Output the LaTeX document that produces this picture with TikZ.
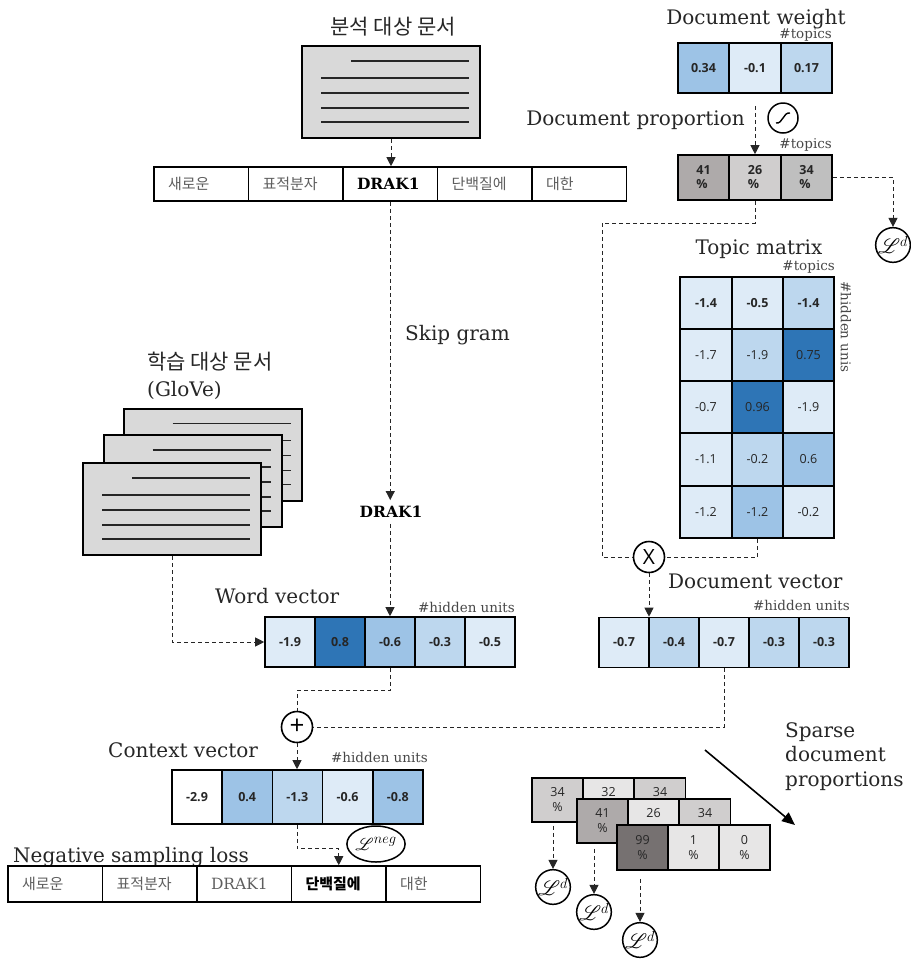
\documentclass[tikz,border=0pt]{standalone}
\usepackage{fontspec}
\usepackage{mathrsfs}
\setmainfont{DejaVu Serif}
\newfontfamily\krfont{Noto Sans CJK KR}
\newfontfamily\numfont{Open Sans}
\usetikzlibrary{arrows.meta,calc,shapes.geometric}

\definecolor{bA}{HTML}{DEEBF7}
\definecolor{bB}{HTML}{BDD7EE}
\definecolor{bC}{HTML}{9DC3E6}
\definecolor{bD}{HTML}{2E75B6}
\definecolor{gA}{HTML}{E7E6E6}
\definecolor{gB}{HTML}{D0CECE}
\definecolor{gC}{HTML}{BFBFBF}
\definecolor{gD}{HTML}{AEAAAA}
\definecolor{gE}{HTML}{767171}
\definecolor{paper}{HTML}{D9D9D9}
\definecolor{ink}{HTML}{262626}
\definecolor{tokgray}{HTML}{5E5E5E}

\tikzset{
  lbl/.style={font=\fontsize{20}{24.5}\selectfont, text=ink, inner sep=0pt},
  tinylbl/.style={font=\fontsize{13.5}{15}\selectfont, text=ink!85, inner sep=0pt},
  krtitle/.style={font=\krfont\fontsize{21}{25}\selectfont, text=ink, inner sep=0pt},
  sheet/.style={draw=black, fill=paper, line width=2pt, minimum width=178pt, minimum height=92pt, inner sep=0pt},
  sheetline/.style={draw=ink, line width=1.2pt},
  cell/.style={draw=black, line width=1.6pt, inner sep=0pt, text=ink, align=center,
    font=\numfont\bfseries\fontsize{12.5}{14}\selectfont},
  lightnum/.style={font=\numfont\fontsize{12.5}{14}\selectfont},
  vec/.style={cell, minimum width=50pt, minimum height=50pt},
  cvec/.style={cell, minimum width=50.2pt, minimum height=54pt},
  wcell/.style={cell, minimum width=51.3pt, minimum height=50pt},
  pcell/.style={cell, minimum width=51.3pt, minimum height=45pt, align=left},
  tcell/.style={cell, minimum width=51.5pt, minimum height=52.2pt},
  scell/.style={cell, minimum width=51pt, minimum height=44pt, font=\numfont\fontsize{12.5}{15}\selectfont},
  tok/.style={draw=black, line width=1.6pt, text width=66.5pt, inner xsep=14pt, inner ysep=0pt,
    minimum height=34pt, align=left, font=\krfont\fontsize{15}{17}\selectfont, text=tokgray},
  dlink/.style={draw=ink, line width=1pt, dash pattern=on 4pt off 3pt},
  arr/.style={-{Triangle[length=9pt,width=9pt]}},
  lcirc/.style={circle, draw=black, line width=1.5pt, minimum size=31pt, inner sep=0pt,
    font=\fontsize{20}{20}\selectfont},
  opcirc/.style={circle, draw=black, line width=1.6pt, minimum size=31pt, inner sep=0pt,
    font=\numfont\fontsize{21}{21}\selectfont},
}

% a grey page with five text lines
\newcommand{\docsheet}[3]{%
  \node[sheet] (#1) at (#2,#3) {};
  \draw[sheetline] ($(#1.north west)+(50,16)$) -- ($(#1.north east)+(-12,16)$);
  \foreach \dy in {33,48,63,77}
    \draw[sheetline] ($(#1.north west)+(20,\dy)$) -- ($(#1.north east)+(-12,\dy)$);
}
\newcommand{\lossd}{$\mathscr{L}^{d}$}

\begin{document}
\begin{tikzpicture}[x=1pt,y=-1pt]
\useasboundingbox (0,0) rectangle (911,962);

% ---------- analysed document and its tokens ----------
\node[krtitle] (toptitle) at (393,27) {분석 대상 문서};
\docsheet{topdoc}{391}{92}

\node[tok] (tk1) at (201.25,184) {새로운};
\node[tok] (tk2) at (295.75,184) {표적분자};
\node[tok, font=\rmfamily\bfseries\fontsize{15.5}{17}\selectfont, text=black] (tk3) at (390.25,184) {DRAK1};
\node[tok] (tk4) at (484.75,184) {단백질에};
\node[tok] (tk5) at (579.25,184) {대한};
\draw[dlink, arr] (topdoc.south) -- (topdoc.south |- tk3.north);

\node[font=\rmfamily\bfseries\fontsize{15.5}{17}\selectfont, text=black, inner sep=6pt] (drak) at (391,512) {DRAK1};
\draw[dlink, arr] (tk3.south) -- (tk3.south |- drak.north);
\node[lbl, anchor=base west] (skip) at (405,340) {Skip gram};

% ---------- training documents ----------
\node[krtitle, anchor=west] (glovetitle) at (147,362) {학습 대상 문서};
\node[lbl, anchor=base west] (glovename) at (147,396) {(GloVe)};
\docsheet{back}{212.5}{454.5}
\docsheet{mid}{192.5}{481}
\docsheet{front}{172}{509}

% ---------- word vector ----------
\node[lbl, anchor=base west] (wvl) at (215,603) {Word vector};
\node[tinylbl, anchor=base east] (wvu) at (515,612) {\#hidden units};
\node[vec, fill=bA] (wv1) at (290,642) {-1.9};
\node[vec, fill=bD] (wv2) at (340,642) {0.8};
\node[vec, fill=bC] (wv3) at (390,642) {-0.6};
\node[vec, fill=bB] (wv4) at (440,642) {-0.3};
\node[vec, fill=bA] (wv5) at (490,642) {-0.5};
\draw[dlink, arr] (wv3.north |- drak.south) -- (wv3.north);
\draw[dlink, arr] (front.south) |- (wv1.west);

% ---------- document weight and proportion ----------
\node[lbl, anchor=base] (dwl) at (756,24) {Document weight};
\node[tinylbl, anchor=base east] (dwu) at (832,38) {\#topics};
\node[wcell, fill=bC] (dw1) at (703.5,68) {0.34};
\node[wcell, fill=bA] (dw2) at (755,68) {-0.1};
\node[wcell, fill=bB] (dw3) at (806.5,68) {0.17};

\node[lbl, anchor=base east] (dpl) at (745,125) {Document proportion};
\node[circle, draw=black, line width=1.5pt, minimum size=30pt, inner sep=0pt] (sig) at (783,118) {};
\draw[line width=1.4pt] ($(sig.center)+(-7,5)$) .. controls ($(sig.center)+(0,6)$) and ($(sig.center)+(0,-6)$) .. ($(sig.center)+(7,-5)$);
\node[tinylbl, anchor=base east] (dpu) at (832,148) {\#topics};
\node[pcell, fill=gD] (pp1) at (703.5,177.5) {41\\\%};
\node[pcell, fill=gB] (pp2) at (755,177.5) {26\\\%};
\node[pcell, fill=gC] (pp3) at (806.5,177.5) {34\\\%};
\draw[dlink, arr, shorten <=12pt] (dw2.south) -- (pp2.north);

\node[lcirc] (ld0) at (893,245) {\lossd};
\draw[dlink, arr] (pp3.east) -| (ld0.north);

% ---------- topic matrix ----------
\node[lbl, anchor=base] (tml) at (759,254) {Topic matrix};
\node[tinylbl, anchor=base east] (tmu) at (835,270) {\#topics};
\node[tinylbl, rotate=-90] (tmh) at (846,327) {\#hidden unis};
\node[tcell, fill=bA] (tm11) at (706,303) {-1.4};
\node[tcell, fill=bA] (tm12) at (757.5,303) {-0.5};
\node[tcell, fill=bB] (tm13) at (808.5,303) {-1.4};
\node[tcell, lightnum, fill=bA] (tm21) at (706,355) {-1.7};
\node[tcell, lightnum, fill=bB] (tm22) at (757.5,355) {-1.9};
\node[tcell, lightnum, fill=bD] (tm23) at (808.5,355) {0.75};
\node[tcell, lightnum, fill=bA] (tm31) at (706,407) {-0.7};
\node[tcell, lightnum, fill=bD] (tm32) at (757.5,407) {0.96};
\node[tcell, lightnum, fill=bA] (tm33) at (808.5,407) {-1.9};
\node[tcell, lightnum, fill=bA] (tm41) at (706,459.5) {-1.1};
\node[tcell, lightnum, fill=bB] (tm42) at (757.5,459.5) {-0.2};
\node[tcell, lightnum, fill=bC] (tm43) at (808.5,459.5) {0.6};
\node[tcell, lightnum, fill=bA] (tm51) at (706,512) {-1.2};
\node[tcell, lightnum, fill=bC] (tm52) at (757.5,512) {-1.2};
\node[tcell, lightnum, fill=bA] (tm53) at (808.5,512) {-0.2};

% ---------- product: document vector ----------
\node[opcirc] (times) at (649,557) {X};
\coordinate (bendA) at (602,223);
\draw[dlink] (pp2.south) |- (bendA) |- (times.west);
\draw[dlink] (tm52.south) |- (times.east);

\node[lbl, anchor=base west] (dvl) at (668,588) {Document vector};
\node[tinylbl, anchor=base east] (dvu) at (850,610) {\#hidden units};
\node[vec, fill=bA] (dv1) at (624,642.5) {-0.7};
\node[vec, fill=bB] (dv2) at (674,642.5) {-0.4};
\node[vec, fill=bA] (dv3) at (724,642.5) {-0.7};
\node[vec, fill=bB] (dv4) at (774,642.5) {-0.3};
\node[vec, fill=bB] (dv5) at (824,642.5) {-0.3};
\draw[dlink, arr] (times.south) -- (times.south |- dv1.north);

% ---------- sum: context vector ----------
\node[opcirc, font=\numfont\fontsize{26}{26}\selectfont] (plus) at (297,727) {+};
\draw[dlink] (wv3.south) -- ++(0,23) -| (plus.north);
\draw[dlink] (dv3.south) |- (plus.east);

\node[lbl, anchor=base west] (cvl) at (108,757) {Context vector};
\node[tinylbl, anchor=base east] (cvu) at (428,762) {\#hidden units};
\node[cvec, fill=white] (cv1) at (197,797) {-2.9};
\node[cvec, fill=bC] (cv2) at (247.2,797) {0.4};
\node[cvec, fill=bB] (cv3) at (297.4,797) {-1.3};
\node[cvec, fill=bA] (cv4) at (347.6,797) {-0.6};
\node[cvec, fill=bC] (cv5) at (397.8,797) {-0.8};
\draw[dlink, arr] (plus.south) -- (plus.south |- cv3.north);

% ---------- negative sampling ----------
\node[lbl, anchor=base west] (nsl) at (13,862) {Negative sampling loss};
\node[draw=black, ellipse, line width=1.5pt, minimum width=56pt, minimum height=36pt, inner sep=0pt,
  font=\fontsize{19}{19}\selectfont] (lneg) at (376,844) {$\mathscr{L}^{neg}$};
\node[tok, minimum height=36pt] (ns1) at (55.25,884) {새로운};
\node[tok, minimum height=36pt] (ns2) at (149.75,884) {표적분자};
\node[tok, minimum height=36pt, font=\rmfamily\fontsize{15.5}{17}\selectfont] (ns3) at (244.25,884) {DRAK1};
\node[tok, minimum height=36pt, font=\krfont\bfseries\fontsize{15}{17}\selectfont, text=black] (ns4) at (338.75,884) {단백질에};
\node[tok, minimum height=36pt] (ns5) at (433.25,884) {대한};
\draw[dlink, arr] (cv3.south) -- ++(0,24) -| (ns4.north);

% ---------- sparse document proportions ----------
\node[lbl, anchor=north west, align=left] (spl) at (785,722) {Sparse\\document\\proportions};
\coordinate (sa1) at (705,750);
\coordinate (sa2) at (795,825);
\draw[line width=1.6pt, -{Triangle[length=13pt,width=11pt]}] (sa1) -- (sa2);

\node[scell, fill=gB] (ss11) at (557.5,800) {34\\\%};
\node[scell, fill=gA] (ss12) at (608.5,800) {32\\\phantom{\%}};
\node[scell, fill=gB] (ss13) at (660,800) {34\\\phantom{\%}};
\node[scell, fill=gD] (ss21) at (602.5,821) {41\\\%};
\node[scell, fill=gA] (ss22) at (653.5,821) {26\\\phantom{\%}};
\node[scell, fill=gB] (ss23) at (705,821) {34\\\phantom{\%}};
\node[scell, fill=gE, minimum height=45pt] (ss31) at (642.5,847.5) {99\\\%};
\node[scell, fill=gA, minimum height=45pt] (ss32) at (693.5,847.5) {1\\\%};
\node[scell, fill=gA, minimum height=45pt] (ss33) at (744.5,847.5) {0\\\%};

\node[lcirc] (ld1) at (553,887) {\lossd};
\node[lcirc] (ld2) at (594,912) {\lossd};
\node[lcirc] (ld3) at (640,940) {\lossd};
\draw[dlink, arr, shorten <=3pt] (ld1.north |- ss11.south) -- (ld1.north);
\draw[dlink, arr, shorten <=5pt] (ld2.north |- ss21.south) -- (ld2.north);
\draw[dlink, arr, shorten <=8pt] (ld3.north |- ss31.south) -- (ld3.north);
\end{tikzpicture}
\end{document}
